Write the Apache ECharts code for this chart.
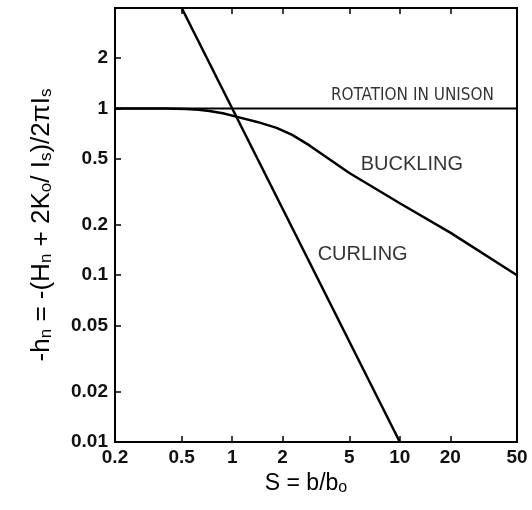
<!DOCTYPE html>
<html>
<head>
<meta charset="utf-8">
<script src="https://cdn.jsdelivr.net/npm/echarts@6/dist/echarts.min.js"></script>
<style>html,body{margin:0;padding:0;background:#fff}#c{width:532px;height:510px}</style>
</head>
<body>
<div id="c"></div>
<script>
// Tick labels
const xTicks = [0.2, 0.5, 1, 2, 5, 10, 20, 50];
const yTicks = [0.01, 0.02, 0.05, 0.1, 0.2, 0.5, 1, 2];
// Series: S = b/b0 vs -h_n
const unisonS = [0.2, 50];
const unisonH = [1, 1];
const curlingS = [0.5, 10];
const curlingH = [4, 0.01];
const bucklingS = [0.2, 0.3, 0.4, 0.53, 0.63, 0.73, 0.88, 1.07, 1.41, 1.84, 2.28, 2.89, 5, 10, 20, 50];
const bucklingH = [1, 1, 1, 0.993, 0.982, 0.965, 0.935, 0.89, 0.83, 0.765, 0.694, 0.6, 0.41, 0.27, 0.18, 0.1];
// Annotations (data coords)
const noteText = ['ROTATION IN UNISON', 'BUCKLING', 'CURLING'];
const noteS = [11.9, 11.8, 6.0];
const noteH = [1.2, 0.46, 0.134];

const zip = (a, b) => a.map((v, i) => [v, b[i]]);
const fontFam = "'Liberation Sans', Arial, sans-serif";
const narrowFam = "'Liberation Sans Narrow', 'DejaVu Sans Condensed', sans-serif";
const lineStyle = { color: '#000', width: 2.5 };
const noteStyles = [
  { fontFamily: narrowFam, fontSize: 17, color: '#000', textBorderWidth: 0 },
  { fontFamily: fontFam, fontSize: 20, color: '#000', textBorderWidth: 0 },
  { fontFamily: fontFam, fontSize: 20, color: '#000', textBorderWidth: 0 }
];

const chart = echarts.init(document.getElementById('c'), null, { renderer: 'canvas' });
chart.setOption({
  animation: false,
  backgroundColor: '#fff',
  grid: { left: 115, right: 15, top: 8, bottom: 68, show: true, borderColor: '#000', borderWidth: 2, backgroundColor: 'transparent' },
  xAxis: [{
    type: 'log', logBase: 10, min: 0.2, max: 50,
    name: 'S = b/b{sub|o}', nameLocation: 'middle', nameGap: 28,
    nameTextStyle: { fontFamily: fontFam, fontSize: 23, color: '#000', padding: [0, 20, 0, 0],
      rich: { sub: { fontSize: 16, fontFamily: fontFam, color: '#000', verticalAlign: 'bottom', padding: [9, 0, 0, 0] } } },
    axisLine: { show: true, lineStyle: { color: '#000', width: 2 } },
    axisTick: { show: true, inside: true, length: 6, lineStyle: { color: '#000', width: 1.5 }, customValues: xTicks },
    axisLabel: { show: true, margin: 6, fontFamily: fontFam, fontSize: 19, fontWeight: 'bold', color: '#111', customValues: xTicks, formatter: v => String(v) },
    splitLine: { show: false }, minorTick: { show: false }
  }, {
    type: 'log', logBase: 10, min: 0.2, max: 50, position: 'top',
    axisLine: { show: true, lineStyle: { color: '#000', width: 2 } },
    axisTick: { show: true, inside: true, length: 6, lineStyle: { color: '#000', width: 1.5 }, customValues: xTicks.slice(1, -1) },
    axisLabel: { show: false },
    splitLine: { show: false }
  }],
  yAxis: {
    type: 'log', logBase: 10, min: 0.01, max: 4,
    name: '-h{sub|n} = -(H{sub|n} + 2K{sub|o}/ I{sub|s})/2πI{sub|s}',
    nameLocation: 'middle', nameGap: 60, nameRotate: 90,
    nameTextStyle: { fontFamily: fontFam, fontSize: 26, color: '#000',
      rich: { sub: { fontSize: 17, fontFamily: fontFam, color: '#000', verticalAlign: 'bottom', padding: [10, 0, 0, 0] } } },
    axisLine: { show: true, lineStyle: { color: '#000', width: 2 } },
    axisTick: { show: true, inside: true, length: 6, lineStyle: { color: '#000', width: 1.5 }, customValues: yTicks },
    axisLabel: { show: true, margin: 7, fontFamily: fontFam, fontSize: 19, fontWeight: 'bold', color: '#111', customValues: yTicks, formatter: v => String(v) },
    splitLine: { show: false }
  },
  series: [
    { type: 'line', data: zip(unisonS, unisonH), symbol: 'none', lineStyle: { color: '#000', width: 2 } },
    { type: 'line', data: zip(curlingS, curlingH), symbol: 'none', lineStyle: lineStyle },
    { type: 'line', data: zip(bucklingS, bucklingH), symbol: 'none', smooth: false, lineStyle: lineStyle },
    { type: 'scatter', symbolSize: 0, silent: true,
      data: noteText.map((t, i) => ({ value: [noteS[i], noteH[i]], name: t, label: noteStyles[i] })),
      label: { show: true, position: 'inside', formatter: p => p.name, color: '#000' } }
  ]
});
</script>
</body>
</html>
